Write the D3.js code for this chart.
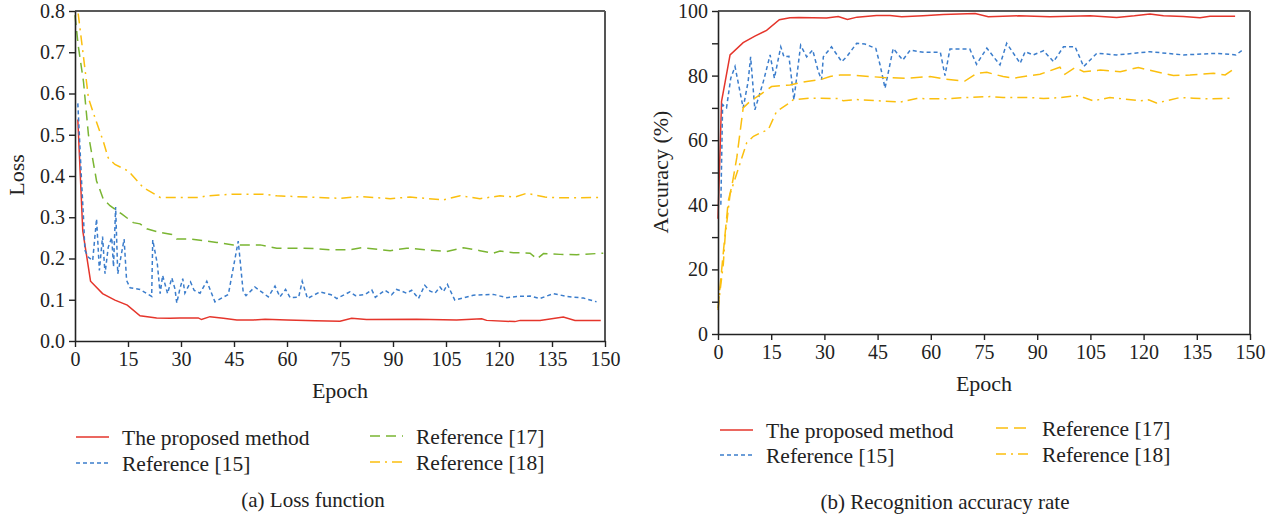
<!DOCTYPE html>
<html>
<head>
<meta charset="utf-8">
<script src="https://d3js.org/d3.v7.min.js"></script>
<style>
  body { margin: 0; background: #fff; }
  svg text { font-family: "Liberation Serif", "DejaVu Serif", serif; fill: #222; }
</style>
</head>
<body>
<div id="chart-area"></div>
<script>
// x ticks shared by both panels
var epochTicks = [0, 15, 30, 45, 60, 75, 90, 105, 120, 135, 150];
var lossTicks = [0, 0.1, 0.2, 0.3, 0.4, 0.5, 0.6, 0.7, 0.8];
var accTicks = [0, 10, 20, 30, 40, 50, 60, 70, 80, 90, 100];

var seriesNames = ["The proposed method", "Reference [15]", "Reference [17]", "Reference [18]"];

// (a) loss, [epoch, loss]
var lossProposed = [[0.8,0.537],[2.2,0.267],[4.4,0.145],[7.8,0.115],[11.3,0.099],[14.8,0.087],[18.4,0.061],[23.1,0.056],[26.9,0.055],[29.7,0.056],[34.9,0.056],[35.8,0.052],[38.2,0.059],[42,0.055],[45.8,0.051],[50.5,0.051],[53.8,0.053],[60,0.051],[68,0.049],[75,0.048],[78.3,0.055],[82.5,0.052],[96.7,0.053],[108,0.051],[115.1,0.054],[116.5,0.05],[124.5,0.047],[126,0.05],[131.6,0.05],[138.2,0.058],[141.5,0.05],[148.8,0.05]];
var lossRef15 = [[0.8,0.576],[1.9,0.38],[2.4,0.30],[2.8,0.22],[3.8,0.203],[5,0.195],[6.1,0.296],[6.9,0.171],[7.8,0.253],[8.5,0.163],[9.4,0.227],[10.4,0.251],[10.9,0.18],[11.5,0.325],[12.1,0.163],[12.7,0.19],[13.9,0.247],[14.6,0.147],[15.6,0.129],[18.4,0.125],[21.7,0.108],[22,0.245],[23.3,0.187],[24.1,0.115],[24.8,0.159],[26.2,0.115],[27.4,0.153],[28.3,0.126],[28.8,0.092],[29.7,0.127],[30.5,0.151],[31.1,0.116],[32.7,0.143],[33.7,0.123],[35.4,0.116],[37.3,0.145],[39.6,0.095],[43.4,0.113],[46.2,0.242],[47.6,0.119],[48.4,0.11],[50.9,0.131],[54.7,0.107],[56.6,0.133],[58,0.107],[59.6,0.125],[60.9,0.105],[63.3,0.106],[64.3,0.145],[65.8,0.103],[69.3,0.119],[72.5,0.112],[74.1,0.103],[77.8,0.119],[79.4,0.11],[82.2,0.113],[84,0.124],[85,0.106],[87.7,0.123],[89.6,0.112],[91,0.125],[92.4,0.121],[93.8,0.116],[95.3,0.123],[97.2,0.103],[99,0.135],[100.5,0.121],[101.9,0.116],[103.3,0.131],[104.3,0.12],[105.4,0.137],[107.5,0.099],[112.7,0.111],[118.4,0.113],[122.2,0.105],[125,0.108],[128.8,0.109],[131.6,0.103],[135.4,0.115],[139.2,0.108],[143.9,0.104],[147.6,0.095]];
var lossRef17 = [[0,0.79],[0.9,0.717],[2.4,0.629],[3.8,0.50],[6.1,0.388],[6.9,0.37],[8,0.344],[9.9,0.328],[13.2,0.308],[16.5,0.287],[18.4,0.284],[20.3,0.272],[24.1,0.263],[27.4,0.258],[28.8,0.247],[32.7,0.247],[40.1,0.239],[44.8,0.233],[52.4,0.233],[57.1,0.225],[63.7,0.225],[67.5,0.224],[72.2,0.221],[77.8,0.221],[81.1,0.226],[89.2,0.219],[93.9,0.225],[105.2,0.217],[109.9,0.226],[114.6,0.219],[118.4,0.213],[120.3,0.218],[124.1,0.214],[128.8,0.213],[130.7,0.199],[132.6,0.212],[137.3,0.21],[142,0.209],[149.5,0.213]];
var lossRef18 = [[0.9,0.794],[2.8,0.661],[3.8,0.589],[5.7,0.54],[8,0.484],[9.4,0.444],[11.3,0.428],[15.1,0.412],[19.3,0.372],[24.1,0.348],[35.4,0.348],[37.3,0.352],[44.8,0.356],[53.3,0.356],[57.1,0.352],[68.4,0.348],[75,0.346],[80.7,0.35],[89.2,0.345],[94.8,0.349],[104.2,0.342],[109,0.352],[114.6,0.345],[120.3,0.352],[124.5,0.349],[127.8,0.358],[133,0.349],[137.3,0.347],[148.6,0.348]];

// (b) accuracy, [epoch, %]
var accProposed = [[0,35.7],[1,72],[2,78],[3.4,86.4],[7.1,90.2],[10.4,92.2],[13.7,94],[17.3,97.3],[20.3,97.9],[22.8,98],[30.6,97.8],[33.9,98.3],[36.5,97.4],[39.2,98.1],[44.7,98.6],[48.5,98.6],[51.8,98.2],[57.8,98.5],[63.5,98.9],[72.5,99.2],[76.2,98.2],[84.8,98.5],[93.6,98.2],[104.9,98.5],[112.4,98.0],[117.4,98.5],[121.8,99.1],[125.6,98.5],[131.2,98.3],[135.9,97.9],[138.7,98.4],[145.8,98.4]];
var accRef15 = [[0.8,40],[1.3,71],[2.4,70],[3.6,79.2],[4.8,82.8],[7.1,70],[8.5,78.2],[9.2,85.8],[10.4,69.4],[12.8,78.2],[14.7,86.4],[15.9,79.2],[17.7,88.9],[18.6,85.8],[20,86],[21.4,72.5],[23.3,89.4],[25,85.8],[26.7,87.9],[28.3,81.2],[29.2,78.7],[29.7,85.8],[32,88.9],[34.9,84.3],[36.4,86],[39.1,90],[41.4,89.8],[44.5,88.4],[45.7,83.3],[47.1,76.1],[49.4,88.4],[52.1,84.8],[54.2,87.9],[58,87.2],[62.7,87.2],[64,80],[65.4,88.2],[71,88.2],[72.9,83.5],[75.8,88.5],[79.5,83.3],[81.4,90],[85.2,83.8],[86.6,87.4],[88.9,86.4],[91.8,87.7],[94.6,84.3],[97.4,88.9],[100.7,88.9],[103.1,82.8],[106.8,86.9],[112.4,86.4],[121.8,87.4],[131.2,86.4],[140.6,86.9],[146,86.4],[147.9,87.9]];
var accRef17 = [[0,8],[2,31],[2.9,41.2],[3.9,45.8],[5.3,54.6],[7.1,70],[9,72],[11.8,74],[15.1,76.6],[20.3,77.1],[25,78.2],[28.8,78.7],[31.6,79.7],[34.4,80.2],[37.2,80.2],[46.6,79.4],[53.2,79.2],[59.8,79.7],[63.5,79],[69.6,78.3],[72.9,80.7],[75.8,81],[80.4,79.7],[83.3,79.2],[88,80],[90.8,80.4],[96.4,82.6],[97.8,80.4],[100.7,82.5],[103.1,81.2],[107.8,81.7],[113.4,81.2],[118.5,82.5],[122.7,81.4],[128.4,80],[133.1,80.2],[139.7,80.7],[143,80.2],[145.8,82.3]];
var accRef18 = [[0,7.4],[0.6,13.5],[1.5,21.7],[2,30],[3.4,43.3],[8.1,59.2],[10,61.2],[11.8,62.2],[14.2,63.3],[16.5,68.9],[19.4,71],[21.2,72.5],[25.9,73],[34.4,72.9],[35.3,72.2],[39.1,72.6],[51.3,71.8],[56,72.9],[63.5,72.8],[70.1,73.2],[76.7,73.5],[80.4,73.2],[88,73.2],[91.8,72.9],[96.4,73.2],[101.1,73.8],[103.1,73.2],[105.8,72.2],[110.5,73.2],[114.3,72.8],[119,72.2],[121.4,72.5],[123.6,71.5],[126.5,72.2],[130.2,73.2],[134,73],[138.7,72.8],[145.2,73]];

var RED = "#e5352b", BLUE = "#3b7dcc", GREEN = "#7ab532", YELLOW = "#fbbf0e";

var svg = d3.select("#chart-area")
    .append("svg")
        .attr("width", 1285)
        .attr("height", 520);

function drawPanel(opt) {
    var x = d3.scaleLinear().domain([0, 150]).range([opt.x0, opt.x1]);
    var y = d3.scaleLinear().domain(opt.yDomain).range([opt.y0, opt.y1]);
    var g = svg.append("g");

    // frame (top + right)
    g.append("line").attr("x1", opt.x0).attr("x2", opt.x1).attr("y1", opt.y1).attr("y2", opt.y1)
        .attr("stroke", "#222").attr("stroke-width", 1.5);
    g.append("line").attr("x1", opt.x1).attr("x2", opt.x1).attr("y1", opt.y1).attr("y2", opt.y0)
        .attr("stroke", "#555").attr("stroke-width", 2);

    // lines
    var line = d3.line().x(function(d){ return x(d[0]); }).y(function(d){ return y(d[1]); });
    opt.series.forEach(function(s) {
        g.append("path")
            .datum(s.data)
            .attr("fill", "none")
            .attr("stroke", s.color)
            .attr("stroke-width", 1.5)
            .attr("stroke-dasharray", s.dash)
            .attr("d", line);
    });

    // X Axis
    var xAxis = g.append("g")
        .attr("transform", "translate(0," + opt.y0 + ")")
        .call(d3.axisBottom(x).tickValues(epochTicks).tickSize(6).tickSizeOuter(0).tickPadding(5));
    // Y Axis
    var yAxis = g.append("g")
        .attr("transform", "translate(" + opt.x0 + ",0)")
        .call(d3.axisLeft(y).tickValues(opt.yTicks).tickSize(6).tickSizeOuter(0).tickPadding(4).tickFormat(opt.yFormat));
    [xAxis, yAxis].forEach(function(a) {
        a.select(".domain").attr("stroke", "#222").attr("stroke-width", 1.6);
        a.selectAll(".tick line").attr("stroke", "#222").attr("stroke-width", 1.4);
        a.selectAll("text").attr("font-size", "20px").attr("font-family", "Liberation Serif").attr("fill", "#222");
    });

    // labels
    g.append("text")
        .attr("x", (opt.x0 + opt.x1) / 2)
        .attr("y", opt.y0 + 57)
        .attr("font-size", "22px")
        .attr("text-anchor", "middle")
        .text("Epoch");
    g.append("text")
        .attr("transform", "translate(" + opt.yLabelX + "," + opt.yLabelY + ") rotate(-90)")
        .attr("font-size", "22px")
        .attr("text-anchor", "middle")
        .text(opt.yLabel);

    // legend
    opt.series.forEach(function(s, i) {
        var p = opt.legendPos[i];
        g.append("line")
            .attr("x1", p[0]).attr("x2", p[0] + 33)
            .attr("y1", p[1]).attr("y2", p[1])
            .attr("stroke", s.color).attr("stroke-width", 1.5)
            .attr("stroke-dasharray", s.dash);
        g.append("text")
            .attr("x", p[0] + 46)
            .attr("y", p[1])
            .attr("dy", "0.35em")
            .attr("font-size", "21.5px")
            .text(seriesNames[i]);
    });

    g.append("text")
        .attr("x", opt.captionX)
        .attr("y", opt.captionY)
        .attr("font-size", "21px")
        .attr("text-anchor", "middle")
        .text(opt.caption);
}

drawPanel({
    x0: 75, x1: 605, y0: 341, y1: 11,
    yDomain: [0, 0.8], yTicks: lossTicks, yFormat: d3.format(".1f"),
    yLabel: "Loss", yLabelX: 24, yLabelY: 175,
    series: [
        { data: lossProposed, color: RED, dash: null },
        { data: lossRef15, color: BLUE, dash: "4,3" },
        { data: lossRef17, color: GREEN, dash: "10,6" },
        { data: lossRef18, color: YELLOW, dash: "10,5,2,5" }
    ],
    legendPos: [[76, 437], [76, 463], [370, 436], [370, 462]],
    caption: "(a) Loss function", captionX: 313, captionY: 507
});

drawPanel({
    x0: 718, x1: 1250, y0: 334, y1: 11,
    yDomain: [0, 100], yTicks: accTicks, yFormat: function(d){ return d % 20 === 0 ? d : ""; },
    yLabel: "Accuracy (%)", yLabelX: 668, yLabelY: 172,
    series: [
        { data: accProposed, color: RED, dash: null },
        { data: accRef15, color: BLUE, dash: "4,3" },
        { data: accRef17, color: YELLOW, dash: "12,6" },
        { data: accRef18, color: YELLOW, dash: "10,5,2,5" }
    ],
    legendPos: [[720, 430], [720, 455], [996, 428], [996, 454]],
    caption: "(b) Recognition accuracy rate", captionX: 945, captionY: 509
});
</script>
</body>
</html>
